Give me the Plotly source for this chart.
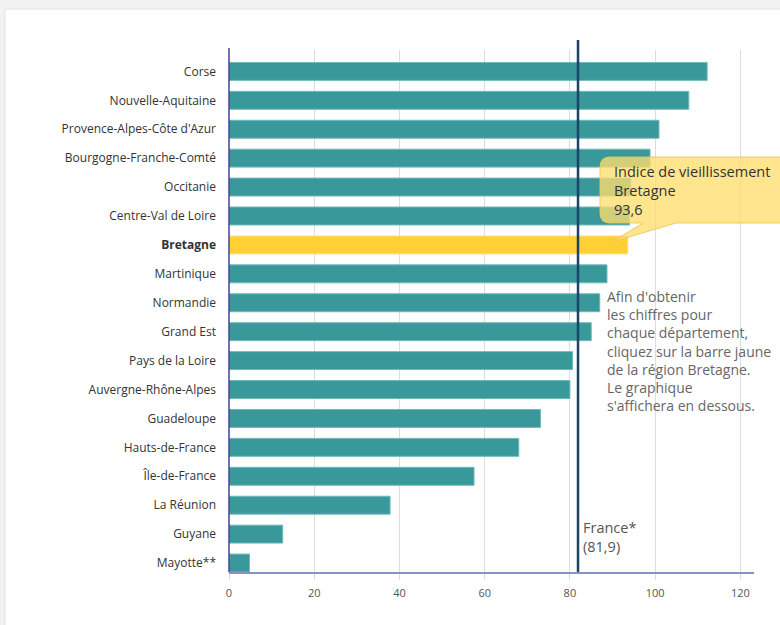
import plotly.graph_objects as go

regions = ["Corse", "Nouvelle-Aquitaine", "Provence-Alpes-Côte d'Azur",
           "Bourgogne-Franche-Comté", "Occitanie", "Centre-Val de Loire",
           "Bretagne", "Martinique", "Normandie", "Grand Est",
           "Pays de la Loire", "Auvergne-Rhône-Alpes", "Guadeloupe",
           "Hauts-de-France", "Île-de-France", "La Réunion", "Guyane",
           "Mayotte**"]
values = [112.2, 107.9, 100.9, 98.8, 94.3, 94.0, 93.6, 88.7, 87.0, 85.0,
          80.6, 80.0, 73.1, 68.0, 57.5, 37.8, 12.6, 4.8]
highlight = "Bretagne"
france_value = 81.9
x_ticks = [0, 20, 40, 60, 80, 100, 120]
tooltip_title = "Indice de vieillissement"
france_label = ["France*", "(81,9)"]
info_lines = ["Afin d'obtenir", "les chiffres pour", "chaque département,",
              "cliquez sur la barre jaune", "de la région Bretagne.",
              "Le graphique", "s'affichera en dessous."]

W, H = 780, 625
ML, MR, MT, MB = 229, 26, 50, 53
PW, PH = W - ML - MR, H - MT - MB
XMAX = 123.2

def px(x):  # pixel -> paper x
    return (x - ML) / PW

def py(y):  # pixel -> paper y
    return (H - MB - y) / PH

def data_to_px(v):
    return ML + v / XMAX * PW

colors = ["#FFD034" if r == highlight else "#38989a" for r in regions]
line_colors = ["#ffe08a" if r == highlight else "#6fb9ba" for r in regions]
ticktext = [f"<b>{r}</b>" if r == highlight else r for r in regions]

fig = go.Figure(go.Bar(
    x=values, y=regions, orientation="h",
    marker=dict(color=colors, line=dict(color=line_colors, width=1)),
    hoverinfo="skip",
))

shapes = []
# white panel on grey page
shapes.append(dict(type="rect", xref="paper", yref="paper", layer="below",
                   x0=px(5), x1=px(W + 5), y0=py(H + 5), y1=py(9),
                   fillcolor="white", line=dict(color="#e3e3e3", width=1)))
# left axis line
shapes.append(dict(type="line", xref="paper", yref="paper",
                   x0=0, x1=0, y0=0, y1=py(48),
                   line=dict(color="#40409a", width=1.5)))
# France reference line
shapes.append(dict(type="line", xref="x", yref="paper",
                   x0=france_value, x1=france_value, y0=0, y1=py(40),
                   line=dict(color="#1b4468", width=2.5)))

# tooltip callout (rounded box with wedge)
bi = regions.index(highlight)
tip_x = data_to_px(values[bi]) - 16
tip_y = 242
bx0, bx1, by0, by1, r = 600, 800, 157, 223, 10
wl, wr = 643, 676

def P(x, y):
    return f"{px(x):.5f},{py(y):.5f}"

path = (f"M {P(bx0 + r, by0)} L {P(bx1, by0)} L {P(bx1, by1)} "
        f"L {P(wr, by1)} L {P(tip_x, tip_y)} L {P(wl, by1)} "
        f"L {P(bx0 + r, by1)} Q {P(bx0, by1)} {P(bx0, by1 - r)} "
        f"L {P(bx0, by0 + r)} Q {P(bx0, by0)} {P(bx0 + r, by0)} Z")
shapes.append(dict(type="path", xref="paper", yref="paper", path=path,
                   fillcolor="rgba(255,222,110,0.78)",
                   line=dict(color="rgba(235,200,90,0.9)", width=1)))

tooltip_lines = [tooltip_title, highlight,
                 str(values[bi]).replace(".", ",")]

annotations = [
    dict(xref="x", yref="paper", x=france_value, y=py(536.5), xshift=3,
         xanchor="left", yanchor="middle", showarrow=False, align="left",
         text="<br>".join(france_label),
         font=dict(family="Open Sans", size=14.5, color="#555555")),
    dict(xref="paper", yref="paper", x=px(612), y=py(190.5),
         xanchor="left", yanchor="middle", showarrow=False, align="left",
         text="<br>".join(tooltip_lines),
         font=dict(family="Open Sans", size=14.5, color="#333333")),
    dict(xref="paper", yref="paper", x=px(605), y=py(350.5),
         xanchor="left", yanchor="middle", showarrow=False, align="left",
         text="<br>".join(info_lines),
         font=dict(family="Open Sans", size=14, color="#666666")),
]

fig.update_layout(
    width=W, height=H,
    margin=dict(l=ML, r=MR, t=MT, b=MB, pad=0),
    paper_bgcolor="#f2f2f2", plot_bgcolor="rgba(0,0,0,0)",
    bargap=0.38, showlegend=False,
    font=dict(family="Open Sans", color="#333333"),
    shapes=shapes, annotations=annotations,
    xaxis=dict(range=[0, XMAX], tickvals=x_ticks, showgrid=True,
               gridcolor="#dcdcdc", gridwidth=1, zeroline=False,
               showline=True, linecolor="rgba(80,80,170,0.65)", linewidth=2,
               ticks="outside", ticklen=6, tickcolor="#dcdcdc",
               ticklabelstandoff=4,
               tickfont=dict(family="Open Sans", size=11, color="#555555")),
    yaxis=dict(categoryorder="array", categoryarray=regions,
               tickvals=regions, ticktext=ticktext,
               range=[len(regions) - 1 + 0.31, -0.74],
               showgrid=False, zeroline=False,
               showline=False, ticks="", ticklabelstandoff=12,
               tickfont=dict(family="Open Sans", size=12, color="#333333")),
)

fig.write_html(
    "out.html",
    config={"displayModeBar": False},
    post_script="document.body.style.margin='0';"
                "document.body.style.background='#f2f2f2';"
                "document.body.style.overflow='hidden';",
)
